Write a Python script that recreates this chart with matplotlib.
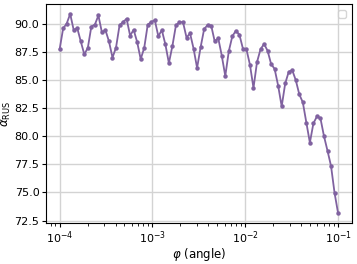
import numpy as np
import matplotlib
matplotlib.use("Agg")
import matplotlib.pyplot as plt

# angles: 80 log-spaced points between 1e-4 and 1e-1
phi = np.logspace(-4, -1, 80)

alpha_rus = [
    87.72, 89.57, 90.00, 90.86, 89.42, 89.60, 88.42, 87.27, 87.84, 89.74,
    89.91, 90.72, 89.22, 89.42, 88.42, 86.98, 87.87, 89.85, 90.14, 90.43,
    88.93, 89.45, 88.36, 86.84, 87.84, 89.91, 90.14, 90.31, 88.88, 89.42,
    88.16, 86.49, 88.02, 89.85, 90.11, 90.14, 88.76, 89.14, 87.78, 86.06,
    87.90, 89.51, 89.88, 89.83, 88.42, 88.71, 87.16, 85.34, 87.55, 88.88,
    89.36, 89.02, 87.78, 87.72, 86.34, 84.28, 86.58, 87.72, 88.19, 87.59,
    86.41, 85.97, 84.48, 82.64, 84.68, 85.72, 85.86, 84.97, 83.71, 83.00,
    81.20, 79.42, 81.14, 81.75, 81.58, 80.00, 78.70, 77.35, 74.96, 73.16,
]

plt.rcParams["font.size"] = 8

fig, ax = plt.subplots(figsize=(3.57, 2.64), dpi=100)
fig.subplots_adjust(left=0.128, right=0.986, top=0.985, bottom=0.155)

ax.plot(phi, alpha_rus, color="#8062a0", marker="o", markersize=2.2, linewidth=1.3)
ax.set_xscale("log")
ax.grid(True, color="#d3d3d3", linewidth=1.0)
ax.set_axisbelow(True)
ax.tick_params(labelsize=8, length=3, pad=1.5)

ax.set_xlabel(r"$\varphi$ (angle)", fontsize=8.5, labelpad=0)
ax.set_ylabel(r"$\alpha_{\rm RUS}$", fontsize=8.5, labelpad=1)
ax.legend([], [], loc="upper right")

fig.savefig("out.png", dpi=100)
